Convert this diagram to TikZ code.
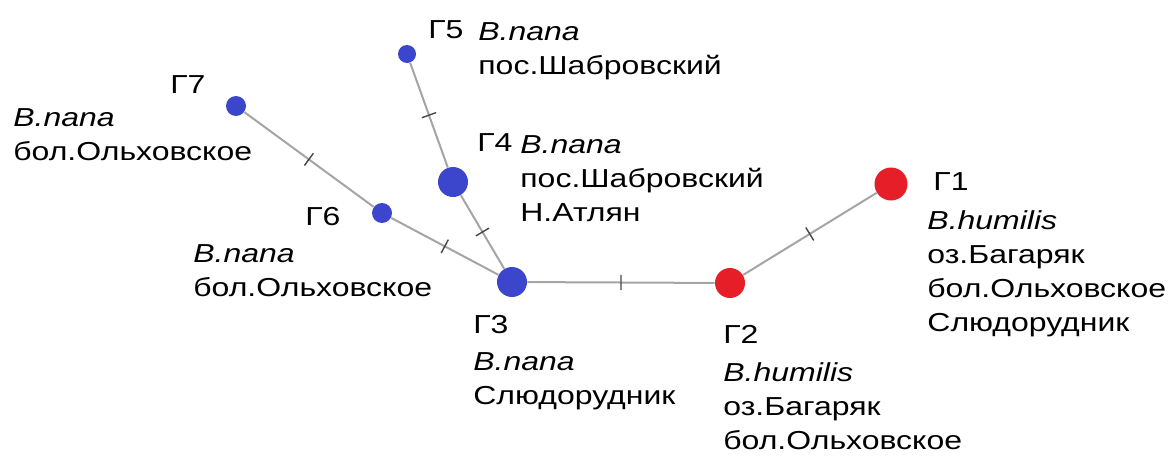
\documentclass[tikz,border=0pt]{standalone}
\usepackage{fontspec}
\setmainfont{Liberation Sans}[FakeStretch=1.23]
\usepackage{tikz}
\usetikzlibrary{decorations.markings}
\definecolor{hapblue}{RGB}{60,70,205}
\definecolor{hapred}{RGB}{230,30,40}
\definecolor{linkgray}{RGB}{165,165,165}
\definecolor{tickgray}{RGB}{70,70,70}
\tikzset{
	hap/.style={circle, inner sep=0pt, minimum size=#1},
	link/.style={draw=linkgray, line width=1pt, postaction={decorate},
		decoration={markings, mark=at position 0.5 with {\draw[tickgray, line width=0.7pt] (0,-3.8pt) -- (0,3.8pt);}}},
	lbl/.style={anchor=base west, inner sep=0pt, align=left},
}
\begin{document}
\begin{tikzpicture}[x=0.5pt,y=-0.5pt,font=\fontsize{13}{17}\selectfont]
		\useasboundingbox (0,0) rectangle (1170,455);
		% haplotypes
		\foreach \name/\x/\y/\d/\col in {g1/891/184/16.5pt/hapred, g2/730/283/15pt/hapred,
			g3/512/282/15pt/hapblue, g4/453/182/15pt/hapblue, g5/407/54/9pt/hapblue,
			g6/382/213/10pt/hapblue, g7/236/106/10pt/hapblue}
		{
			\node[hap=\d, fill=\col] (\name) at (\x,\y) {};
		}
		% links with one mutation each
		\foreach \a/\b in {g7/g6, g6/g3, g5/g4, g4/g3, g3/g2, g2/g1}
		{
			\draw[link] (\a) -- (\b);
		}
		% labels (base = baseline of the last line)
		\node[lbl] (g1id) at (933,190) {Г1};
		\node[lbl] (g1txt) at (927,331) {\textit{B.humilis}\\оз.Багаряк\\бол.Ольховское\\Слюдорудник};
		\node[lbl] (g2id) at (723,343) {Г2};
		\node[lbl] (g2txt) at (723,449) {\textit{B.humilis}\\оз.Багаряк\\бол.Ольховское};
		\node[lbl] (g3id) at (473,333) {Г3};
		\node[lbl] (g3txt) at (473,404) {\textit{B.nana}\\Слюдорудник};
		\node[lbl] (g4id) at (477,151) {Г4};
		\node[lbl] (g4txt) at (520,221) {\textit{B.nana}\\пос.Шабровский\\Н.Атлян};
		\node[lbl] (g5id) at (428,38) {Г5};
		\node[lbl] (g5txt) at (478,74) {\textit{B.nana}\\пос.Шабровский};
		\node[lbl] (g6id) at (305,225) {Г6};
		\node[lbl] (g6txt) at (193,296) {\textit{B.nana}\\бол.Ольховское};
		\node[lbl] (g7id) at (170,93) {Г7};
		\node[lbl] (g7txt) at (13,160) {\textit{B.nana}\\бол.Ольховское};
\end{tikzpicture}
\end{document}
